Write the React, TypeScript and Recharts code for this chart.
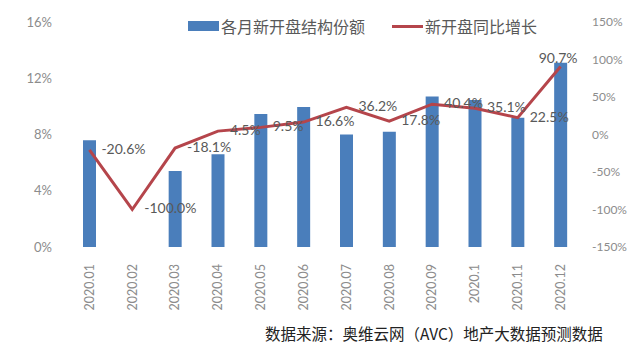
import React from 'react';
import { ComposedChart, Bar, Line, XAxis, YAxis, LabelList } from 'recharts';

const months = ['2020.01', '2020.02', '2020.03', '2020.04', '2020.05', '2020.06', '2020.07', '2020.08', '2020.09', '2020.1', '2020.11', '2020.12'];
const shareValues = [7.6, 0, 5.4, 6.6, 9.45, 9.95, 8.0, 8.2, 10.7, 10.45, 9.2, 13.1];
const growthValues = [-20.6, -100.0, -18.1, 4.5, 9.5, 16.6, 36.2, 17.8, 40.4, 35.1, 22.5, 90.7];
const leftTicks = [0, 4, 8, 12, 16];
const rightTicks = [-150, -100, -50, 0, 50, 100, 150];

const data = months.map((m, i) => ({ month: m, share: shareValues[i], growth: growthValues[i] }));

const BLUE = '#4a7ebb';
const RED = '#b5454b';
const FONT = "Lato, 'Noto Sans CJK SC', sans-serif";

const XTick = (props: any) => {
  const { x, y, payload } = props;
  return (
    <g transform={`translate(${x},${y + 9})`}>
      <text transform="rotate(-90)" textAnchor="end" dy="0.35em" fill="#8c8c8c" fontSize={12.5} fontFamily={FONT}>
        {payload.value}
      </text>
    </g>
  );
};

const GrowthLabel = (props: any) => {
  const { x, y, index, value } = props;
  const last = index === growthValues.length - 1;
  return (
    <text
      x={last ? x + 17 : x + 12}
      y={last ? y - 8 : y - 1}
      dy="0.35em"
      textAnchor={last ? 'end' : 'start'}
      fill="#595959"
      fontSize={14}
      fontFamily={FONT}
    >
      {Number(value).toFixed(1)}%
    </text>
  );
};

export default function App() {
  return (
    <div style={{ position: 'relative', width: 640, height: 353, background: '#fff' }}>
      <style>{'body{margin:0}'}</style>
      <ComposedChart width={640} height={353} data={data} margin={{ top: 22, right: 0, left: 0, bottom: 44 }}>
        <XAxis dataKey="month" axisLine={false} tickLine={false} interval={0} height={62} tick={<XTick />} />
        <YAxis
          yAxisId="left"
          orientation="left"
          width={68}
          domain={[0, 16]}
          ticks={leftTicks}
          tickFormatter={(v: number) => `${v}%`}
          axisLine={false}
          tickLine={false}
          tickSize={0}
          tickMargin={16}
          tick={{ fill: '#8c8c8c', fontSize: 13, fontFamily: FONT }}
        />
        <YAxis
          yAxisId="right"
          orientation="right"
          width={58}
          domain={[-150, 150]}
          ticks={rightTicks}
          tickFormatter={(v: number) => `${v}%`}
          axisLine={false}
          tickLine={false}
          tickSize={0}
          tickMargin={10}
          tick={{ fill: '#8c8c8c', fontSize: 12, fontFamily: FONT }}
        />
        <Bar yAxisId="left" dataKey="share" fill={BLUE} barSize={13} isAnimationActive={false} />
        <Line
          yAxisId="right"
          type="linear"
          dataKey="growth"
          stroke={RED}
          strokeWidth={3}
          dot={false}
          isAnimationActive={false}
        >
          <LabelList dataKey="growth" content={<GrowthLabel />} />
        </Line>
      </ComposedChart>
      {/* legend */}
      <div
        style={{
          position: 'absolute',
          left: 188,
          top: 14,
          display: 'flex',
          alignItems: 'center',
          fontFamily: FONT,
          fontSize: 16,
          color: '#595959',
          whiteSpace: 'nowrap',
        }}
      >
        <span style={{ display: 'inline-block', width: 31, height: 10, background: BLUE, marginRight: 2 }} />
        <span>各月新开盘结构份额</span>
        <span style={{ display: 'inline-block', width: 31, height: 3, background: RED, marginLeft: 27, marginRight: 2 }} />
        <span>新开盘同比增长</span>
      </div>
      <div
        style={{
          position: 'absolute',
          left: 265,
          top: 322,
          fontFamily: "'Noto Sans CJK SC', sans-serif",
          fontSize: 15.5,
          color: '#222',
          whiteSpace: 'nowrap',
        }}
      >
        数据来源：奥维云网（AVC）地产大数据预测数据
      </div>
    </div>
  );
}
